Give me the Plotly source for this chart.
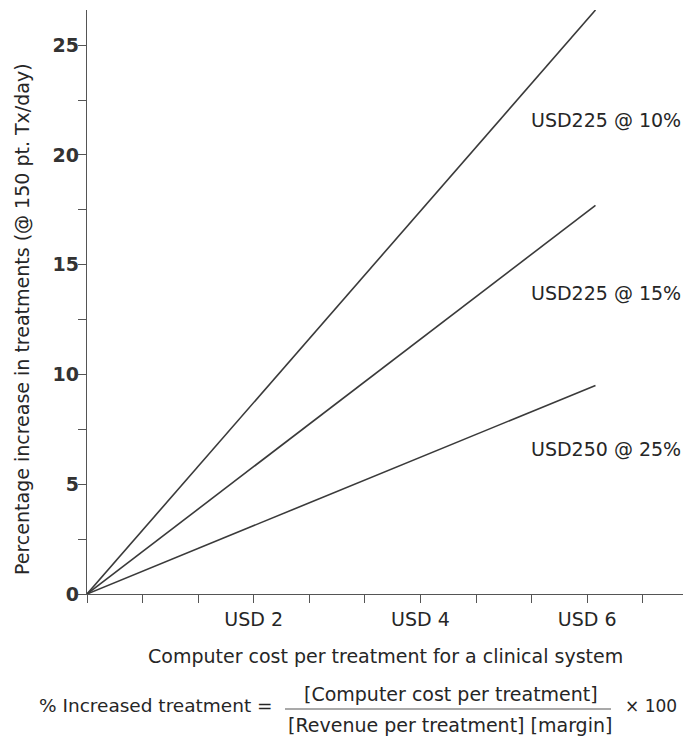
import plotly.graph_objects as go

# ---- data ----
cost_x = [0, 6.1]                      # computer cost per treatment (USD)
series_names = ["USD225 @ 10%", "USD225 @ 15%", "USD250 @ 25%"]
series_end = [26.6, 17.7, 9.5]          # % increase at end of line
label_y = [21.6, 13.7, 6.6]             # label vertical positions
x_tick_vals = [2, 4, 6]
x_tick_text = ["USD 2", "USD 4", "USD 6"]
y_tick_vals = [0, 5, 10, 15, 20, 25]

W, H = 683, 738
L, R, T, B = 87, 0, 10, 738 - 594
PW, PH = W - L - R, H - T - B

def px(xs, ys):
    """screen pixel -> paper coords"""
    return (xs - L) / PW, (H - B - ys) / PH

INK = "#262626"
FONT = "DejaVu Sans"
FS = 19

fig = go.Figure()
for name, yend in zip(series_names, series_end):
    fig.add_trace(go.Scatter(x=cost_x, y=[0, yend], mode="lines",
                             line=dict(color="#3a3a3a", width=1.6),
                             name=name, showlegend=False, hoverinfo="skip"))

ann = []
for name, ly in zip(series_names, label_y):
    ann.append(dict(x=5.3, y=ly, xref="x", yref="y", text=name, showarrow=False,
                    xanchor="left", yanchor="middle",
                    font=dict(family=FONT, size=FS, color=INK)))

def add_text(xs, ys, text, xanchor="center", angle=0, size=FS):
    ax, ay = px(xs, ys)
    ann.append(dict(x=ax, y=ay, xref="paper", yref="paper", text=text,
                    textangle=angle, showarrow=False, xanchor=xanchor,
                    yanchor="middle",
                    font=dict(family=FONT, size=size, color=INK)))

add_text(22, 319, "Percentage increase in treatments (@ 150 pt. Tx/day)", angle=-90)
add_text(385, 656, "Computer cost per treatment for a clinical system")
add_text(37, 706, "% Increased treatment =", xanchor="left", size=18.5)
add_text(451, 694, "[Computer cost per treatment]")
add_text(450, 725, "[Revenue per treatment] [margin]")
add_text(623, 706, "× 100", xanchor="left", size=17)

x0, y0 = px(285, 709)
x1, _ = px(611, 709)
fig.add_shape(type="line", xref="paper", yref="paper", x0=x0, x1=x1, y0=y0, y1=y0,
              line=dict(color="#555", width=1.2))

AX = "#555"
fig.update_layout(
    width=W, height=H, margin=dict(l=L, r=R, t=T, b=B),
    paper_bgcolor="white", plot_bgcolor="white",
    annotations=ann,
    xaxis=dict(range=[0, 7.15], tickvals=x_tick_vals, ticktext=x_tick_text,
               ticks="outside", ticklen=8, tickwidth=1.2, tickcolor=AX,
               showline=True, linecolor=AX, linewidth=1.4,
               showgrid=False, zeroline=False,
               minor=dict(tick0=0, dtick=2/3, ticks="outside", ticklen=8,
                          tickwidth=1.2, tickcolor=AX, showgrid=False),
               tickfont=dict(family=FONT, size=FS, color=INK)),
    yaxis=dict(range=[0, 26.6], tickvals=y_tick_vals,
               ticks="outside", ticklen=8, tickwidth=1.2, tickcolor=AX,
               showline=True, linecolor=AX, linewidth=1.4,
               showgrid=False, zeroline=False, ticklabelstandoff=-5,
               minor=dict(tick0=0, dtick=2.5, ticks="outside", ticklen=8,
                          tickwidth=1.2, tickcolor=AX, showgrid=False),
               tickfont=dict(family=FONT, size=19, color="#333", weight="bold")),
)

fig.write_html("out.html",
               config={"displayModeBar": False},
               post_script="document.body.style.margin='0';"
                           "document.body.style.overflow='hidden';"
                           "document.documentElement.style.overflow='hidden';")
